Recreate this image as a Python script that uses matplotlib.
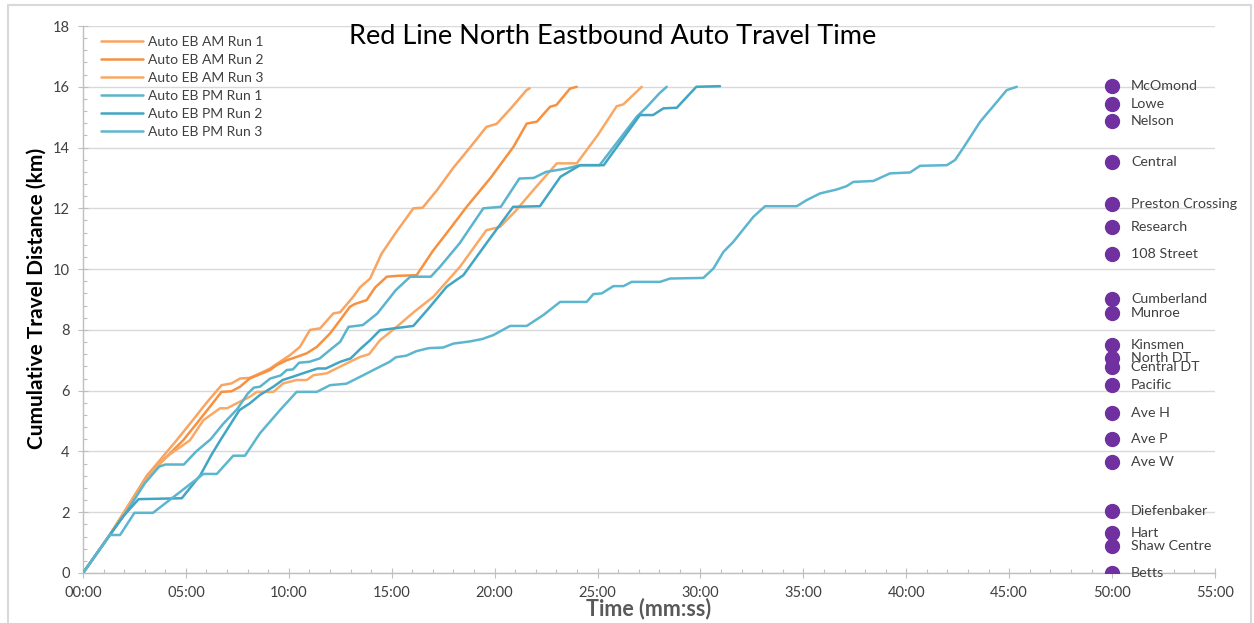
import matplotlib
matplotlib.use("Agg")
import matplotlib.pyplot as plt
from matplotlib.ticker import MultipleLocator, FuncFormatter
from matplotlib.patches import Rectangle

plt.rcParams["font.family"] = ["Lato", "DejaVu Sans"]

# elapsed time in minutes, cumulative distance in km
am1_min = [0, 1.3, 2.0, 3.1, 4.55, 5.3, 6.0, 6.73, 7.22, 7.63, 8.1, 8.6, 9.09, 9.57, 10.06, 10.54,
           11.03, 11.52, 12.16, 12.49, 13.13, 13.46, 13.95, 14.5, 15.2, 16.05, 16.5, 17.2, 18.0,
           18.8, 19.6, 20.1, 20.8, 21.55, 21.7]
am1_km = [0, 1.25, 2.0, 3.2, 4.37, 5.0, 5.6, 6.18, 6.24, 6.4, 6.42, 6.57, 6.73, 6.95, 7.17, 7.44,
          8.0, 8.05, 8.54, 8.58, 9.09, 9.4, 9.69, 10.5, 11.2, 12.0, 12.02, 12.6, 13.34,
          14.0, 14.68, 14.78, 15.3, 15.89, 15.95]

am2_min = [0, 1.3, 2.0, 3.1, 4.87, 5.5, 6.2, 6.73, 7.22, 7.63, 8.1, 9.09, 9.41, 9.9, 10.38, 10.87,
           11.36, 12.0, 12.49, 12.97, 13.2, 13.78, 14.2, 14.76, 15.3, 16.21, 17.0, 17.8, 18.64,
           19.8, 20.91, 21.56, 22.05, 22.69, 23.0, 23.66, 23.99]
am2_km = [0, 1.25, 2.0, 3.17, 4.37, 4.9, 5.5, 5.96, 5.98, 6.13, 6.4, 6.68, 6.84, 7.0, 7.11, 7.23,
          7.44, 7.88, 8.32, 8.76, 8.85, 8.98, 9.4, 9.75, 9.78, 9.8, 10.6, 11.3, 12.05,
          13.0, 14.02, 14.79, 14.85, 15.34, 15.4, 15.94, 16.0]

am3_min = [0, 1.3, 2.0, 3.1, 4.0, 5.2, 5.85, 6.66, 7.0, 7.63, 8.11, 8.44, 9.25, 9.73, 10.38, 10.87,
           11.2, 11.84, 12.49, 12.97, 13.46, 13.9, 14.43, 15.24, 16.1, 17.02, 18.32, 19.6, 20.26,
           21.0, 21.88, 23.02, 23.99, 25.0, 25.93, 26.25, 27.15]
am3_km = [0, 1.25, 2.0, 3.15, 3.8, 4.37, 5.03, 5.42, 5.42, 5.64, 5.8, 5.96, 5.96, 6.24, 6.35, 6.35,
          6.51, 6.57, 6.79, 6.95, 7.11, 7.2, 7.66, 8.1, 8.6, 9.09, 10.08, 11.28, 11.39,
          11.9, 12.6, 13.48, 13.48, 14.4, 15.36, 15.42, 16.0]

pm1_min = [0, 1.3, 2.2, 3.0, 3.7, 4.0, 4.9, 5.5, 6.2, 6.8, 7.5, 8.0, 8.3, 8.6, 9.1, 9.6, 9.9, 10.2,
           10.5, 11.0, 11.5, 12.0, 12.5, 12.9, 13.6, 14.3, 15.2, 15.9, 16.9, 17.35, 18.3, 19.45,
           20.3, 21.2, 21.9, 22.5, 23.5, 24.15, 25.1, 26.9, 27.4, 28.0, 28.36]
pm1_km = [0, 1.25, 2.1, 2.95, 3.5, 3.57, 3.57, 4.0, 4.4, 4.9, 5.4, 5.9, 6.1, 6.13, 6.4, 6.5, 6.68, 6.7,
          6.92, 6.95, 7.06, 7.34, 7.61, 8.1, 8.16, 8.54, 9.31, 9.75, 9.75, 10.08, 10.85, 12.0,
          12.05, 12.98, 13.0, 13.2, 13.31, 13.42, 13.42, 15.01, 15.34, 15.78, 16.0]

pm2_min = [0, 1.3, 2.0, 2.7, 4.8, 5.7, 6.25, 6.7, 7.6, 8.1, 8.6, 9.25, 9.7, 10.2, 10.9, 11.4, 11.8,
           12.5, 13.0, 13.5, 13.95, 14.43, 15.1, 16.05, 16.86, 17.67, 18.48, 19.6, 20.9, 22.2,
           23.2, 24.15, 25.3, 27.06, 27.7, 28.2, 28.85, 29.8, 30.95]
pm2_km = [0, 1.25, 1.9, 2.43, 2.46, 3.22, 3.9, 4.4, 5.36, 5.58, 5.86, 6.13, 6.35, 6.46, 6.62, 6.73, 6.73,
          6.95, 7.06, 7.39, 7.66, 7.99, 8.05, 8.13, 8.76, 9.42, 9.8, 10.85, 12.05, 12.07,
          13.04, 13.42, 13.42, 15.07, 15.07, 15.29, 15.31, 16.0, 16.02]

pm3_min = [0, 1.3, 1.8, 2.5, 3.4, 5.85, 6.5, 7.3, 7.87, 8.6, 9.57, 10.38, 11.36, 12.0, 12.8, 13.3,
           14.43, 14.9, 15.2, 15.7, 16.2, 16.8, 17.5, 18.0, 18.8, 19.4, 19.94, 20.75, 21.56, 22.37,
           23.18, 24.47, 24.8, 25.2, 25.77, 26.26, 26.66, 28.04, 28.52, 30.14, 30.63, 31.12, 31.6,
           32.57, 33.14, 34.68, 35.16, 35.81, 36.62, 37.1, 37.43, 38.4, 39.21, 40.18, 40.67, 41.97,
           42.37, 42.78, 43.59, 44.4, 44.88, 45.37]
pm3_km = [0, 1.25, 1.25, 1.98, 1.98, 3.26, 3.26, 3.86, 3.86, 4.6, 5.36, 5.96, 5.96, 6.18, 6.23, 6.4,
          6.79, 6.95, 7.1, 7.15, 7.3, 7.4, 7.42, 7.55, 7.62, 7.7, 7.83, 8.13, 8.13, 8.49,
          8.92, 8.92, 9.18, 9.2, 9.44, 9.44, 9.58, 9.58, 9.69, 9.71, 10.02, 10.57, 10.9,
          11.72, 12.07, 12.07, 12.27, 12.49, 12.62, 12.73, 12.87, 12.9, 13.15, 13.18, 13.4, 13.42,
          13.59, 14.0, 14.85, 15.5, 15.89, 16.0]

run_labels = ["Auto EB AM Run 1", "Auto EB AM Run 2", "Auto EB AM Run 3",
              "Auto EB PM Run 1", "Auto EB PM Run 2", "Auto EB PM Run 3"]
run_colors = ["#F9A461", "#F79140", "#F9A965", "#5AB4CD", "#41A5C3", "#5DB6CF"]

stations = ["McOmond", "Lowe", "Nelson", "Central", "Preston Crossing", "Research", "108 Street",
            "Cumberland", "Munroe", "Kinsmen", "North DT", "Central DT", "Pacific", "Ave H",
            "Ave P", "Ave W", "Diefenbaker", "Hart", "Shaw Centre", "Betts"]
station_km = [16.02, 15.44, 14.86, 13.51, 12.13, 11.4, 10.5, 9.01, 8.56, 7.49, 7.07, 6.78, 6.19,
              5.28, 4.4, 3.65, 2.05, 1.31, 0.89, 0.0]
station_min = 50.0

runs = [(am1_min, am1_km), (am2_min, am2_km), (am3_min, am3_km),
        (pm1_min, pm1_km), (pm2_min, pm2_km), (pm3_min, pm3_km)]

W, H = 1254, 623
fig = plt.figure(figsize=(W / 100, H / 100), dpi=100)
ax = fig.add_axes([83 / W, 50 / H, (1215 - 83) / W, (573 - 26) / H])

for (t, km), label, color in zip(runs, run_labels, run_colors):
    ax.plot(t, km, color=color, linewidth=1.8, label=label, solid_joinstyle="round",
            solid_capstyle="round", zorder=3)

ax.plot([station_min] * len(station_km), station_km, linestyle="none", marker="o",
        markersize=10, color="#7030A0", zorder=4)
for name, km in zip(stations, station_km):
    ax.text(station_min + 0.92, km, name, fontsize=10.3, color="#404040", va="center",
            ha="left", zorder=5)

ax.set_xlim(0, 55)
ax.set_ylim(0, 18)
ax.xaxis.set_major_locator(MultipleLocator(5))
ax.xaxis.set_minor_locator(MultipleLocator(1))
ax.yaxis.set_major_locator(MultipleLocator(2))
ax.yaxis.set_minor_locator(MultipleLocator(0.4))
ax.xaxis.set_major_formatter(FuncFormatter(lambda v, _: f"{int(round(v)):02d}:00"))

ax.grid(axis="y", which="major", color="#D9D9D9", linewidth=1.0, zorder=0)
ax.set_axisbelow(True)
for side in ("top", "right"):
    ax.spines[side].set_visible(False)
for side in ("left", "bottom"):
    ax.spines[side].set_color("#BFBFBF")
    ax.spines[side].set_linewidth(1.0)

ax.tick_params(which="major", direction="inout", length=7, width=0.8, color="#BFBFBF",
               labelsize=10.5, labelcolor="#404040", pad=6)
ax.tick_params(which="minor", direction="in", length=3, width=0.8, color="#BFBFBF")

ax.legend(loc="upper left", bbox_to_anchor=(101 / W, 1 - 36 / H), bbox_transform=fig.transFigure,
          frameon=False, fontsize=10, handlelength=3.0, handletextpad=0.4,
          labelspacing=0.43, borderaxespad=0, borderpad=0, labelcolor="#404040")

fig.text(613 / W, 1 - 37 / H, "Red Line North Eastbound Auto Travel Time", fontsize=19.5,
         ha="center", va="center", color="#000000")
fig.text(37 / W, 1 - 298 / H, "Cumulative Travel Distance (km)", fontsize=15,
         fontweight="bold", rotation=90, ha="center", va="center", color="#000000")
fig.text(649 / W, 1 - 609 / H, "Time (mm:ss)", fontsize=15.5, fontweight="bold",
         ha="center", va="center", color="#595959")

fig.patches.append(Rectangle((8 / W, -0.02), (1251 - 8) / W, 1.02 - 5 / H, transform=fig.transFigure,
                             fill=False, edgecolor="#D9D9D9", linewidth=1.5))

fig.savefig("out.png", dpi=100)
